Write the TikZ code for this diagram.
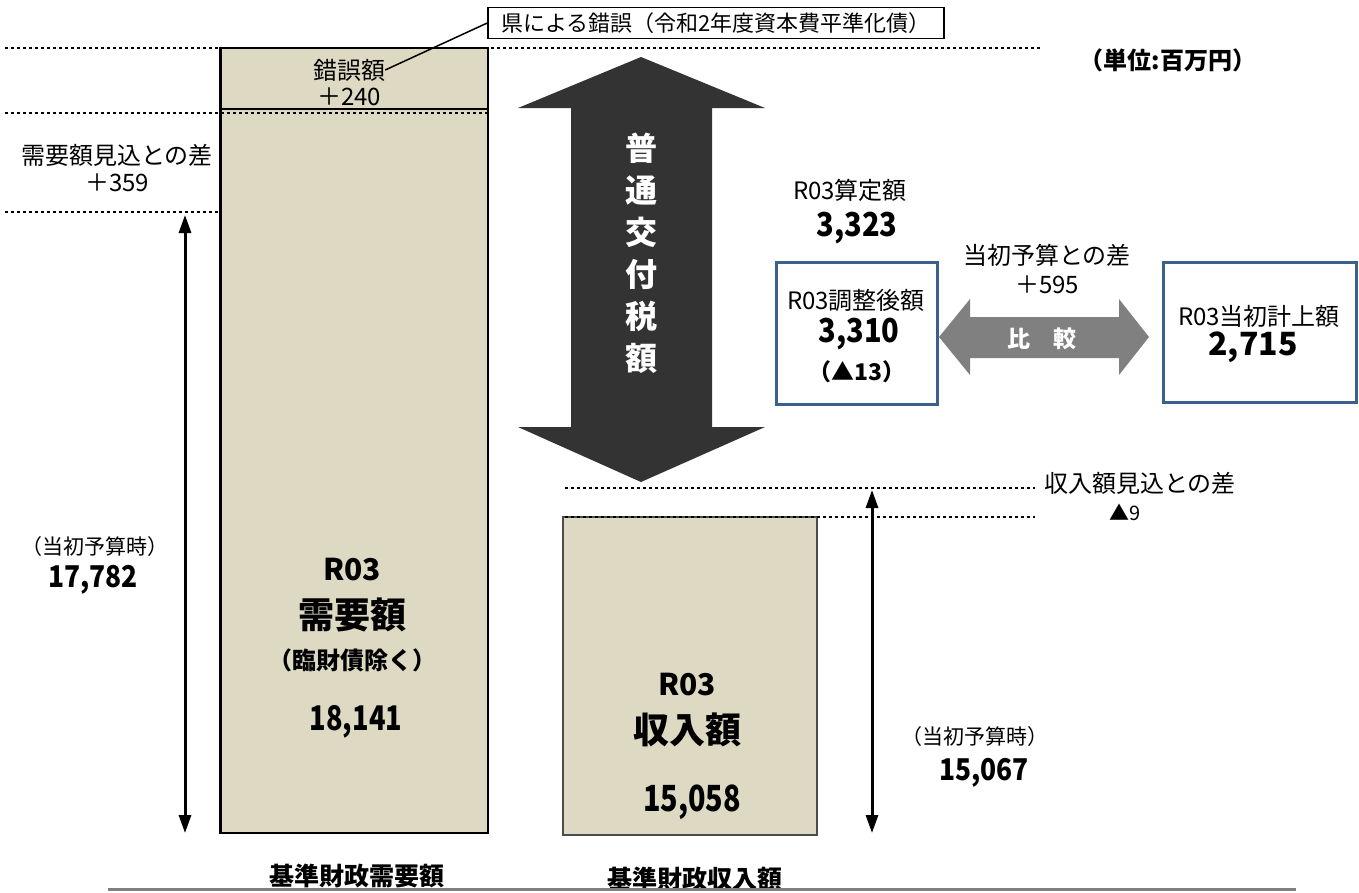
\documentclass[tikz,border=0pt]{standalone}
\usepackage{fontspec}
\setmainfont{Noto Sans CJK JP}
\newfontfamily\hoso{Noto Sans CJK JP}[FakeStretch=0.8]
\newfontfamily\yaya{Noto Sans CJK JP}[FakeStretch=0.88]
\usetikzlibrary{arrows.meta}

\definecolor{kijitan}{RGB}{221,217,195}
\definecolor{waku}{RGB}{60,96,142}
\definecolor{sumi}{RGB}{51,51,51}
\definecolor{nezumi}{RGB}{128,128,128}

\begin{document}
\begin{tikzpicture}[x=1pt,y=-1pt,
  futsu/.style={font=\fontsize{24}{28}\selectfont, inner sep=0pt},
  chiisa/.style={font=\fontsize{21}{24}\selectfont, inner sep=0pt},
  futo/.style={font=\fontsize{34}{38}\selectfont\hoso\bfseries, inner sep=0pt},
  midashi/.style={font=\fontsize{24}{28}\selectfont\bfseries, inner sep=0pt},
  tensen/.style={line width=2.5pt, dash pattern=on 2.5pt off 3.5pt},
  hashira/.style={fill=kijitan, draw=black, line width=2pt},
  yajirushi/.style={line width=3pt, {Triangle[length=18pt,width=12pt]}-{Triangle[length=18pt,width=12pt]}},
  aowaku/.style={draw=waku, line width=3pt, fill=white, inner sep=0pt}]
  \useasboundingbox (0,0) rectangle (1359,892);

  \filldraw[hashira] (220,48) rectangle (488,833);
  \draw[line width=3pt] (220,48) -- (220,833);
  \draw[line width=1.5pt] (220,109) -- (488,109);
  \filldraw[hashira, draw=black!70, line width=1.5pt] (563,517) rectangle (817,835);

  \draw[tensen] (5,48) -- (1040,48);
  \draw[tensen] (5,113) -- (488,113);
  \draw[tensen] (5,212) -- (218,212);
  \draw[tensen] (565,488) -- (1035,488);
  \draw[tensen] (565,517) -- (1035,517);

  \fill[sumi] (641,57) -- (765,108) -- (712,108) -- (712,427) -- (765,427) -- (641,482) -- (518,427) -- (571,427) -- (571,108) -- (518,108) -- cycle;
  \node[font=\fontsize{32}{42}\selectfont\bfseries, text=white, align=center] (koufu) at (641,253) {普\\通\\交\\付\\税\\額};

  \fill[nezumi] (939,337) -- (970,299) -- (970,317) -- (1119,317) -- (1119,299) -- (1149,337) -- (1119,375) -- (1119,358) -- (970,358) -- (970,375) -- cycle;
  \node[midashi, font=\fontsize{23}{26}\selectfont\bfseries, text=white] (hikaku) at (1042,339) {比　較};

  \node[draw, line width=1.5pt, minimum width=456pt, minimum height=31pt, inner sep=0pt, font=\fontsize{22}{26}\selectfont] (kenbox) at (716,23) {県による錯誤（令和2年度資本費平準化債）};
  \node[midashi] (tani) at (1168,60) {（単位:百万円）};

  \node[futsu] (err) at (349,70) {錯誤額};
  \node[futsu] (errval) at (349,97) {＋240};
  \draw[line width=1.5pt] (err.east) -- (kenbox.west);

  \node[futsu] (jyosa) at (117,155) {需要額見込との差};
  \node[futsu] (jyosaval) at (117,183) {＋359};
  \node[chiisa] (toushoL) at (95,547) {（当初予算時）};
  \node[futo, font=\fontsize{30}{34}\selectfont\yaya\bfseries] (toushoLval) at (93,580) {17,782};
  \coordinate (hidaritop) at (185,215);
  \coordinate (hidaribot) at (185,833);
  \draw[yajirushi] (hidaritop) -- (hidaribot);

  \node[futsu, font=\fontsize{30}{34}\selectfont\bfseries] (jyR) at (352,570) {R03};
  \node[futo, font=\fontsize{36}{40}\selectfont\bfseries] (jyname) at (352,615) {需要額};
  \node[midashi] (jysub) at (352,660) {（臨財債除く）};
  \node[futo] (jyval) at (356,722) {18,141};

  \node[futsu, font=\fontsize{30}{34}\selectfont\bfseries] (shR) at (687,685) {R03};
  \node[futo, font=\fontsize{36}{40}\selectfont\bfseries] (shname) at (687,730) {収入額};
  \node[futo, font=\fontsize{36}{40}\selectfont\hoso\bfseries] (shval) at (692,802) {15,058};

  \node[futsu] (shsa) at (1140,483) {収入額見込との差};
  \node[futsu, font=\fontsize{20}{24}\selectfont] (shsaval) at (1125,512) {▲9};
  \node[chiisa] (toushoR) at (975,737) {（当初予算時）};
  \node[futo, font=\fontsize{30}{34}\selectfont\yaya\bfseries] (toushoRval) at (984,773) {15,067};
  \coordinate (migitop) at (872,490);
  \coordinate (migibot) at (872,833);
  \draw[yajirushi] (migitop) -- (migibot);

  \node[futsu] (santei) at (850,190) {R03算定額};
  \node[futo, font=\fontsize{33}{36}\selectfont\yaya\bfseries] (santeival) at (857,228) {3,323};

  \node[aowaku, minimum width=161pt, minimum height=142pt] (chosei) at (856.5,333) {};
  \node[futsu] (choseiname) at (856,300) {R03調整後額};
  \node[futo, font=\fontsize{33}{36}\selectfont\yaya\bfseries] (choseival) at (859,334) {3,310};
  \node[midashi, font=\fontsize{23}{26}\selectfont\bfseries] (choseisa) at (857,372) {（▲13）};

  \node[aowaku, minimum width=193pt, minimum height=140pt] (tousho) at (1259.5,332) {};
  \node[futsu] (toushoname) at (1259,316) {R03当初計上額};
  \node[futo, font=\fontsize{32}{36}\selectfont\bfseries] (toushoval) at (1253,347) {2,715};

  \node[futsu] (yosansa) at (1047,255) {当初予算との差};
  \node[futsu] (yosansaval) at (1047,285) {＋595};

  \node[midashi, font=\fontsize{25}{28}\selectfont\bfseries] (kijun1) at (357,876) {基準財政需要額};
  \node[midashi, font=\fontsize{25}{28}\selectfont\bfseries] (kijun2) at (695,879) {基準財政収入額};
  \draw[nezumi, line width=3pt] (108,889) -- (1296,889);
\end{tikzpicture}
\end{document}
